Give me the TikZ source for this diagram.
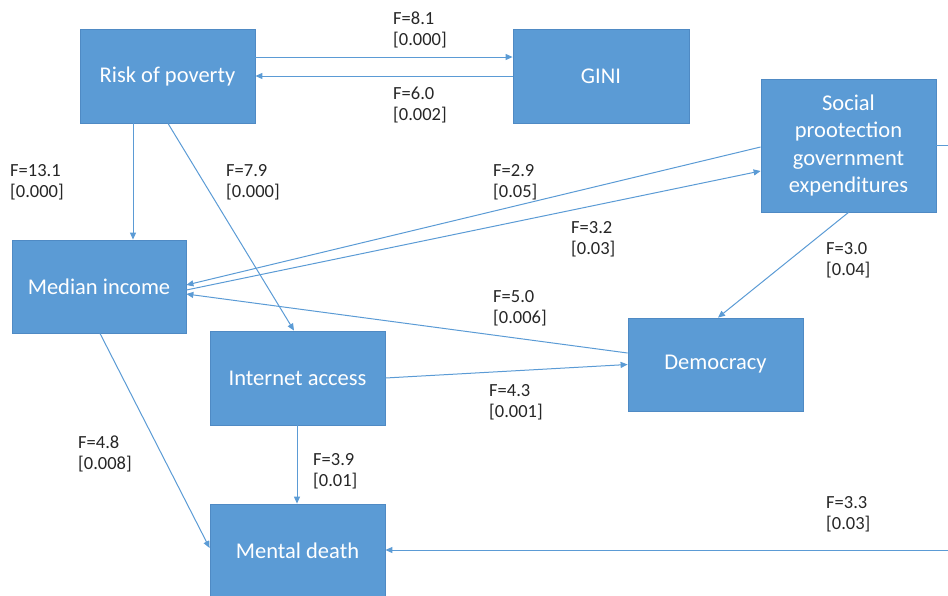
\documentclass[tikz,border=0pt]{standalone}
\usepackage{fontspec}
\setmainfont{Carlito}
\usetikzlibrary{arrows.meta}
\definecolor{boxblue}{HTML}{5B9BD5}
\definecolor{boxedge}{HTML}{4F8AC4}
\definecolor{linkblue}{HTML}{5B9BD5}
\definecolor{labelgray}{HTML}{262626}
\tikzset{
  varbox/.style={rectangle, fill=boxblue, draw=boxedge, line width=0.8pt,
    minimum width=175pt, minimum height=94pt, inner sep=0pt, text=white,
    align=center, font=\fontsize{22.5}{27.5}\selectfont},
  link/.style={draw=linkblue, line width=1pt,
    -{Triangle[length=7pt,width=6pt]}},
  plain/.style={draw=linkblue, line width=1pt},
  stat/.style={anchor=north west, inner sep=0pt, align=left, text=labelgray,
    font=\fontsize{18.5}{21}\selectfont}
}
\begin{document}
\begin{tikzpicture}[x=1pt,y=-1pt]
  \useasboundingbox (0,0) rectangle (948,595);
  \clip (0,0) rectangle (948,595);

  % variables
  \node[varbox] (rop)  at (167.5,76)    {Risk of poverty};
  \node[varbox, minimum width=176pt] (gini) at (601,76) {GINI};
  \node[varbox, minimum height=133pt] (soc) at (848.5,145.5)
        {Social\\prootection\\government\\expenditures};
  \node[varbox, minimum width=174pt, minimum height=93pt] (med) at (99,286.5) {Median income};
  \node[varbox] (inet) at (297.5,378)   {Internet access};
  \node[varbox, minimum height=93pt] (dem) at (715.5,364.5) {Democracy};
  \node[varbox] (ment) at (297.5,551)   {Mental death};

  % causal links
  \draw[link] ([yshift=19pt]rop.east) -- ([yshift=19pt]gini.west);
  \draw[link] (gini.west) -- (rop.east);
  \draw[link] ([xshift=-34.5pt]rop.south) -- ([xshift=34pt]med.north);
  \draw[link] ([xshift=0.5pt]rop.south) -- ([xshift=-3.5pt]inet.north);
  \draw[link] ([yshift=-1.5pt]soc.west) -- ([yshift=1.5pt]med.east);
  \draw[link] ([yshift=-3.5pt]med.east) -- ([yshift=-25.5pt]soc.west);
  \draw[link] ([yshift=11.5pt]dem.west) -- ([yshift=-7.5pt]med.east);
  \draw[link] (inet.east) -- (dem.west);
  \draw[link] (soc.south) -- ([xshift=2.5pt]dem.north);
  \draw[link] ([xshift=-0.5pt]inet.south) -- ([xshift=-0.5pt]ment.north);
  \draw[link] ([xshift=1pt]med.south) -- ([yshift=3pt]ment.west);
  \coordinate (farA) at (970,145.5);
  \coordinate (farB) at (970,550);
  \draw[link] (soc.east) -- (farA) -- (farB) -- ([yshift=1pt]ment.east);

  % test statistics
  \node[stat] (l81)  at (393,12)  {F=8.1\\{}[0.000]};
  \node[stat] (l60)  at (393,87)  {F=6.0\\{}[0.002]};
  \node[stat] (l131) at (10,164)  {F=13.1\\{}[0.000]};
  \node[stat] (l79)  at (226,164) {F=7.9\\{}[0.000]};
  \node[stat] (l29)  at (493,164) {F=2.9\\{}[0.05]};
  \node[stat] (l32)  at (571,221) {F=3.2\\{}[0.03]};
  \node[stat] (l30)  at (826,242) {F=3.0\\{}[0.04]};
  \node[stat] (l50)  at (493,290) {F=5.0\\{}[0.006]};
  \node[stat] (l43)  at (489,384) {F=4.3\\{}[0.001]};
  \node[stat] (l48)  at (78,436)  {F=4.8\\{}[0.008]};
  \node[stat] (l39)  at (313,453) {F=3.9\\{}[0.01]};
  \node[stat] (l33)  at (826,496) {F=3.3\\{}[0.03]};
\end{tikzpicture}
\end{document}
